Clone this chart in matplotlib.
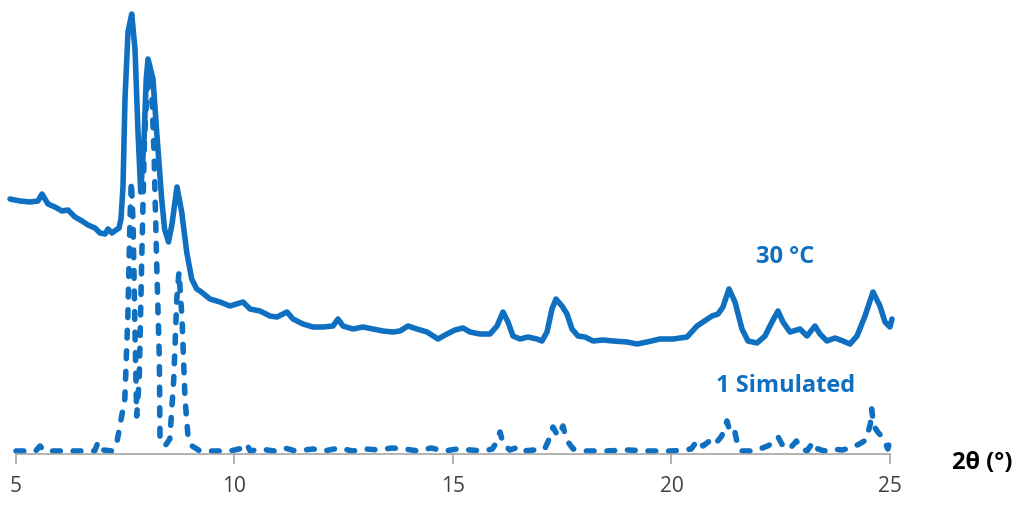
import matplotlib
matplotlib.use("Agg")
import matplotlib.pyplot as plt

BLUE = "#0F6FC0"
FONT = ["Open Sans", "DejaVu Sans"]

# measured pattern at 30 C (2theta in degrees, intensity in arbitrary units)
exp_2theta = [4.863, 5.092, 5.320, 5.503, 5.595, 5.732, 5.892, 6.053, 6.190, 6.350,
              6.510, 6.648, 6.808, 6.922, 7.037, 7.105, 7.197, 7.288, 7.357, 7.403,
              7.449, 7.494, 7.563, 7.648, 7.723, 7.792, 7.854, 7.930, 7.980, 8.021,
              8.135, 8.220, 8.334, 8.400, 8.490, 8.570, 8.684, 8.792, 8.906, 9.021,
              9.135, 9.211, 9.439, 9.668, 9.897, 10.195, 10.355, 10.584, 10.812, 10.973,
              11.201, 11.339, 11.568, 11.796, 12.025, 12.254, 12.368, 12.483, 12.712, 12.941,
              13.169, 13.398, 13.627, 13.787, 13.970, 14.176, 14.405, 14.657, 14.863, 15.046,
              15.229, 15.389, 15.618, 15.847, 16.007, 16.144, 16.259, 16.373, 16.533, 16.716,
              16.922, 17.037, 17.151, 17.265, 17.357, 17.494, 17.609, 17.723, 17.860, 18.021,
              18.204, 18.432, 18.661, 18.982, 19.211, 19.439, 19.737, 20.034, 20.355, 20.584,
              20.721, 20.927, 21.064, 21.178, 21.316, 21.453, 21.613, 21.751, 21.957, 22.140,
              22.300, 22.437, 22.551, 22.712, 22.941, 23.101, 23.284, 23.398, 23.558, 23.741,
              23.924, 24.085, 24.245, 24.428, 24.611, 24.771, 24.886, 25.000, 25.046]
exp_intensity = [255, 253, 252, 253, 260, 250, 247, 243, 244, 237,
                 233, 229, 226, 221, 220, 225, 221, 224, 226, 235,
                 268, 355, 422, 440, 405, 322, 262, 315, 375, 395,
                 375, 322, 255, 225, 212, 230, 267, 242, 202, 175,
                 165, 163, 155, 152, 148, 152, 145, 143, 138, 137,
                 142, 135, 130, 127, 127, 128, 135, 128, 125, 127,
                 125, 123, 122, 123, 128, 125, 122, 115, 120, 124,
                 126, 122, 120, 120, 128, 142, 132, 118, 115, 117,
                 115, 113, 122, 145, 155, 148, 140, 125, 118, 117,
                 113, 114, 113, 112, 110, 112, 115, 115, 117, 128,
                 132, 138, 140, 147, 165, 152, 125, 113, 111, 118,
                 132, 143, 132, 122, 125, 118, 128, 120, 113, 116,
                 113, 110, 118, 138, 162, 148, 132, 127, 135]

# simulated pattern of compound 1
sim_2theta = [5.00, 5.45, 5.55, 5.65, 6.80, 6.88, 7.00, 7.20, 7.31, 7.49,
              7.56, 7.61, 7.64, 7.68, 7.72, 7.762, 7.82, 7.88, 7.94, 8.021,
              8.10, 8.16, 8.22, 8.28, 8.295, 8.41, 8.52, 8.61, 8.68, 8.73,
              8.80, 8.868, 8.936, 9.03, 9.21, 9.90, 10.20, 10.28, 10.36, 10.60,
              10.90, 11.15, 11.40, 11.80, 12.05, 12.40, 12.70, 13.00, 13.30, 13.60,
              13.90, 14.20, 14.50, 14.80, 15.10, 15.40, 15.70, 15.90, 16.00, 16.075,
              16.15, 16.30, 16.50, 16.60, 17.10, 17.20, 17.288, 17.40, 17.517, 17.60,
              17.75, 18.00, 18.50, 19.00, 19.50, 20.00, 20.30, 20.45, 20.60, 20.72,
              20.90, 21.00, 21.15, 21.27, 21.35, 21.45, 21.52, 21.60, 21.90, 22.20,
              22.35, 22.44, 22.55, 22.70, 22.86, 22.95, 23.10, 23.24, 23.35, 23.50,
              23.70, 23.90, 24.10, 24.30, 24.45, 24.55, 24.58, 24.63, 24.72, 24.80,
              24.89, 24.95, 25.00]
sim_intensity = [3, 3, 8, 3, 3, 12, 4, 3, 12, 55,
                 138, 238, 273, 230, 130, 38, 75, 200, 315, 380,
                 370, 300, 190, 95, 18, 8, 15, 75, 155, 182,
                 135, 55, 18, 8, 3, 3, 6, 10, 3, 5,
                 3, 6, 3, 5, 3, 6, 3, 5, 4, 6,
                 5, 3, 6, 3, 5, 4, 3, 5, 12, 22,
                 10, 4, 7, 3, 5, 15, 27, 18, 28, 14,
                 5, 3, 3, 4, 3, 3, 4, 5, 14, 8,
                 14, 10, 18, 33, 20, 22, 8, 3, 3, 8,
                 12, 17, 8, 5, 13, 6, 3, 12, 5, 3,
                 5, 4, 6, 10, 14, 30, 45, 28, 22, 18,
                 12, 5, 14]

xticks = [5, 10, 15, 20, 25]

fig = plt.figure(figsize=(10.21, 5.06), dpi=100)
ax = fig.add_axes([0, 0, 1, 1])

ax.plot(exp_2theta, exp_intensity, color=BLUE, lw=4.0, solid_joinstyle="round",
        solid_capstyle="round")
ax.plot(sim_2theta, sim_intensity, color=BLUE, lw=4.0, dashes=(1.4, 2.3),
        dash_capstyle="round", dash_joinstyle="round")

ax.text(22.60, 198, "30 °C", color=BLUE, fontsize=17, fontweight="bold",
        family=FONT, ha="center", va="center")
ax.text(22.62, 69, "1 Simulated", color=BLUE, fontsize=17, fontweight="bold",
        family=FONT, ha="center", va="center")

ax.set_xlim(4.634, 27.998)
ax.set_ylim(-51, 455)

for side in ["left", "right", "top"]:
    ax.spines[side].set_visible(False)
ax.spines["bottom"].set_position(("data", 0))
ax.spines["bottom"].set_bounds(5, 25)
ax.spines["bottom"].set_color("#a6a6a6")
ax.spines["bottom"].set_linewidth(1.2)

ax.set_yticks([])
ax.set_xticks(xticks)
ax.set_xticklabels([str(t) for t in xticks], family=FONT, fontsize=15, color="#404040")
ax.tick_params(axis="x", direction="out", length=7, width=1.2, color="#a6a6a6", pad=8)

fig.text(982 / 1021, 1 - 463 / 506, "2θ (°)", fontsize=17, fontweight="bold",
         family=FONT, ha="center", va="center", color="black")

fig.savefig("out.png", dpi=100)
